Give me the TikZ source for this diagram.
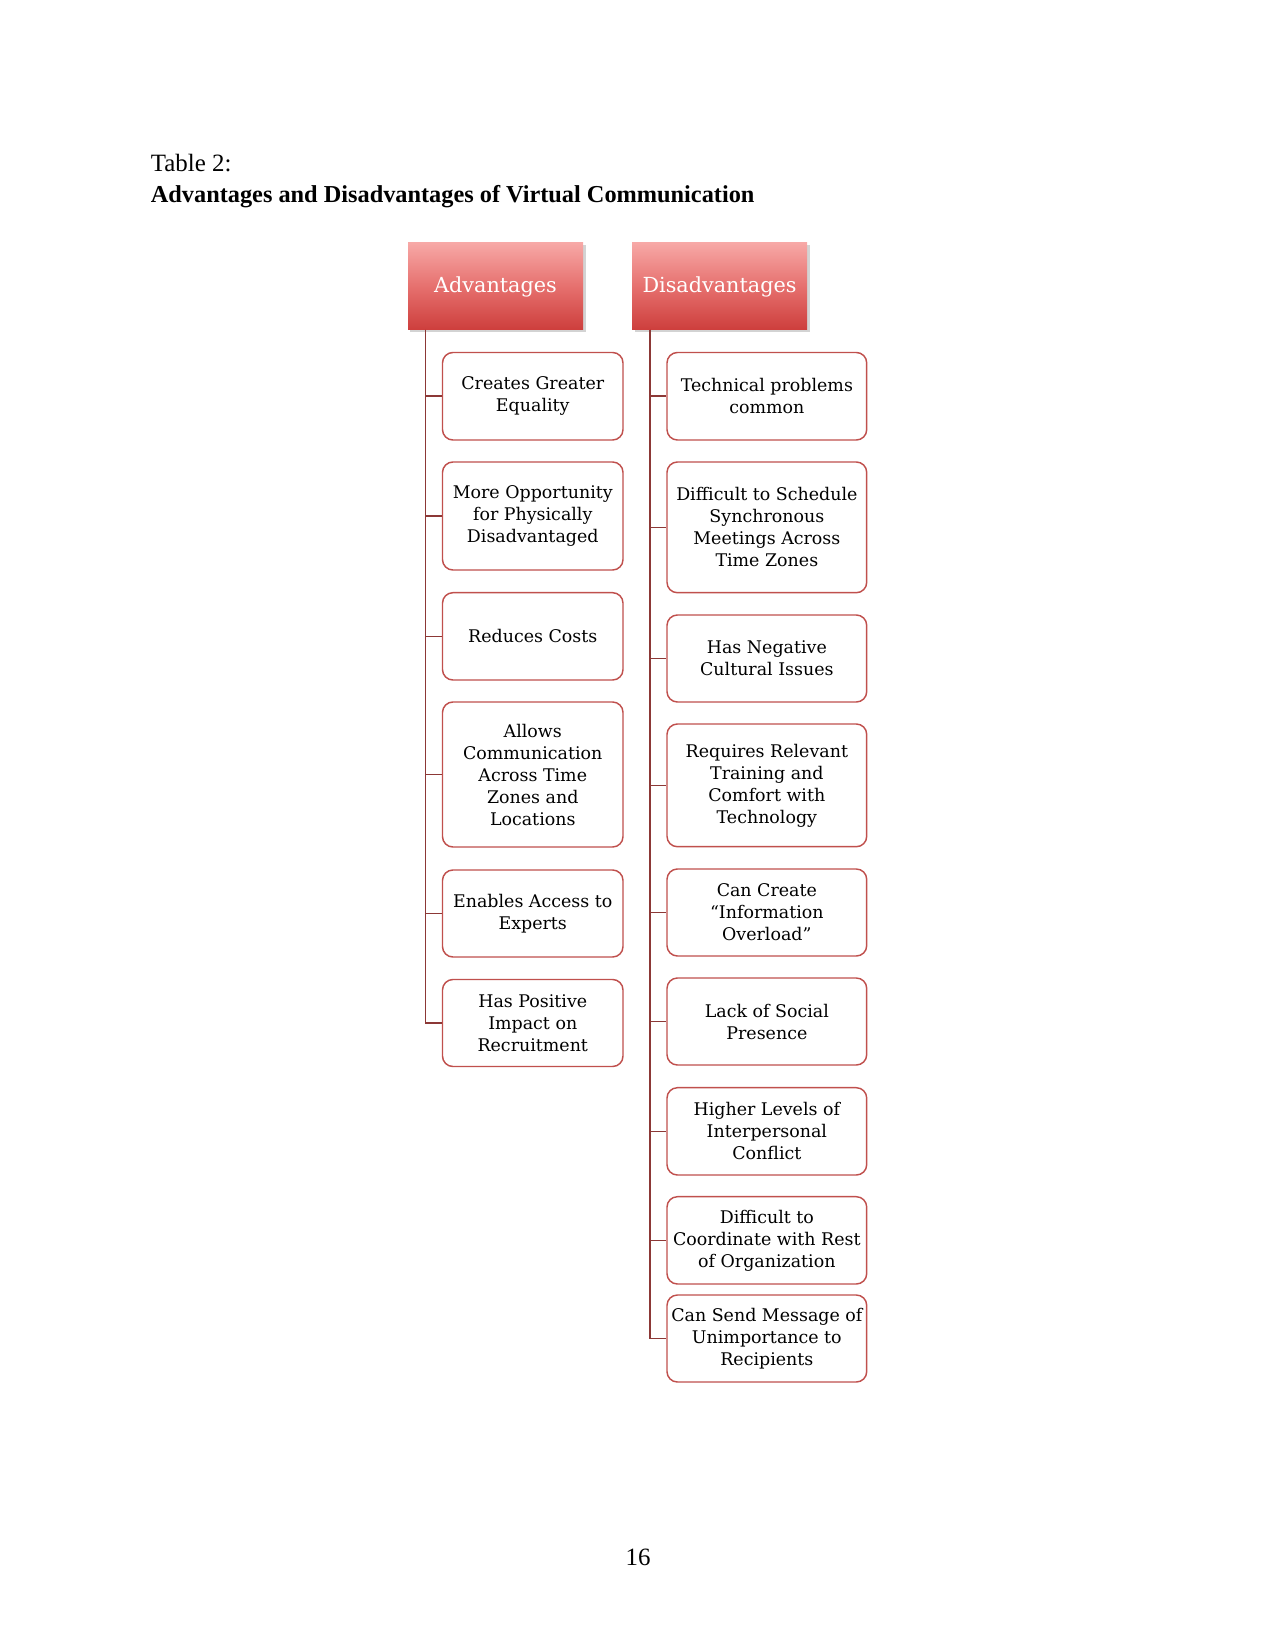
\documentclass[tikz,border=0pt]{standalone}
\usepackage{graphicx}
\usepackage{fontspec}
\setmainfont{DejaVu Serif}
\newfontfamily\titlefont{Liberation Serif}
\usetikzlibrary{shadows}
\definecolor{boxred}{RGB}{192,80,77}
\definecolor{connred}{RGB}{140,56,54}
\definecolor{hdrtop}{RGB}{247,168,166}
\definecolor{hdrmid}{RGB}{230,112,110}
\definecolor{hdrbot}{RGB}{205,62,60}
\tikzset{
 hdr/.style={shading=axis, top color=hdrtop, bottom color=hdrbot, middle color=hdrmid,
   minimum width={175*0.4818pt}, minimum height={87*0.4818pt}, inner sep=0pt, text=white,
   font=\fontsize{10}{12}\selectfont,
   drop shadow={shadow xshift=1.2pt, shadow yshift=-1.2pt, opacity=0.35}},
 item/.style={draw=boxred, line width=0.7pt, rounded corners=5pt, fill=white, align=center,
   inner sep=0pt, font=\fontsize{8.4}{10.6}\selectfont},
 aitem/.style={item, minimum width={180.5*0.4818pt}},
 ditem/.style={item, minimum width={199.7*0.4818pt}},
 conn/.style={draw=connred, line width=0.75pt},
 ttl/.style={anchor=base west, inner sep=0pt, font=\titlefont\fontsize{12}{14}\selectfont},
}
\begin{document}
\begin{tikzpicture}[x=0.4818pt, y=-0.4818pt]
\useasboundingbox (0,0) rectangle (1275,1651);

\node[ttl] (t1) at (150.5,171.7) {Table 2:};
\node[ttl, font=\titlefont\bfseries\fontsize{12}{14}\selectfont] (t2) at (150.5,202.7)
  {\resizebox{290.8pt}{!}{Advantages and Disadvantages of Virtual Communication}};

\node[hdr] (hA) at (495.5,286.5) {Advantages};
\node[hdr] (hD) at (719.5,286.5) {Disadvantages};

\node[aitem, minimum height={87.5*0.4818pt}] (a1) at (532.75,396.25) {Creates Greater\\Equality};
\node[aitem, minimum height={108*0.4818pt}] (a2) at (532.75,516) {More Opportunity\\for Physically\\Disadvantaged};
\node[aitem, minimum height={87.3*0.4818pt}] (a3) at (532.75,636.35) {Reduces Costs};
\node[aitem, minimum height={145*0.4818pt}] (a4) at (532.75,774.5) {Allows\\Communication\\Across Time\\Zones and\\Locations};
\node[aitem, minimum height={87*0.4818pt}] (a5) at (532.75,913.5) {Enables Access to\\Experts};
\node[aitem, minimum height={87*0.4818pt}] (a6) at (532.75,1023) {Has Positive\\Impact on\\Recruitment};

\node[ditem, minimum height={87.5*0.4818pt}] (d1) at (766.85,396.25) {Technical problems\\common};
\node[ditem, minimum height={130.7*0.4818pt}] (d2) at (766.85,527.35) {Difficult to Schedule\\Synchronous\\Meetings Across\\Time Zones};
\node[ditem, minimum height={87*0.4818pt}] (d3) at (766.85,658.5) {Has Negative\\Cultural Issues};
\node[ditem, minimum height={122.7*0.4818pt}] (d4) at (766.85,785.35) {Requires Relevant\\Training and\\Comfort with\\Technology};
\node[ditem, minimum height={87*0.4818pt}] (d5) at (766.85,912.5) {Can Create\\“Information\\Overload”};
\node[ditem, minimum height={87*0.4818pt}] (d6) at (766.85,1021.5) {Lack of Social\\Presence};
\node[ditem, minimum height={87.3*0.4818pt}] (d7) at (766.85,1131.35) {Higher Levels of\\Interpersonal\\Conflict};
\node[ditem, minimum height={87.3*0.4818pt}] (d8) at (766.85,1240.35) {Difficult to\\Coordinate with Rest\\of Organization};
\node[ditem, minimum height={87*0.4818pt}] (d9) at (766.85,1338.5) {Can Send Message of\\Unimportance to\\Recipients};

\coordinate (la) at (425.7,330);
\coordinate (ld) at (650,330);
\foreach \i in {1,...,6} { \draw[conn] (la) |- (a\i.west); }
\foreach \i in {1,...,9} { \draw[conn] (ld) |- (d\i.west); }

\node[anchor=base, inner sep=0pt, font=\titlefont\fontsize{12}{14}\selectfont] (pg) at (638,1565) {16};
\end{tikzpicture}
\end{document}
